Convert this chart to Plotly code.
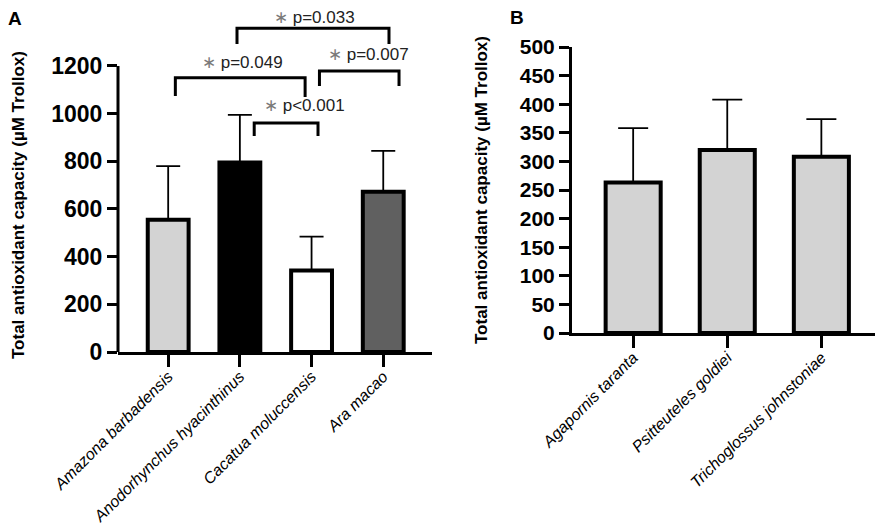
import plotly.graph_objects as go

# Panel A data
species_a = ["Amazona barbadensis", "Anodorhynchus hyacinthinus", "Cacatua moluccensis", "Ara macao"]
tac_a = [555, 795, 342, 672]
sd_a = [225, 200, 142, 172]
colors_a = ["#d3d3d3", "#000000", "#ffffff", "#606060"]

# Panel B data
species_b = ["Agapornis taranta", "Psitteuteles goldiei", "Trichoglossus johnstoniae"]
tac_b = [263, 320, 308]
sd_b = [95, 88, 66]
colors_b = ["#d3d3d3", "#d3d3d3", "#d3d3d3"]

# significance brackets for panel A: (x left, x right, top, left leg, right leg, label, label x, label y)
brackets = [
    (0.10, 1.91, 1150, 1074, 1070, "p=0.049", 1.03, 1213),
    (1.20, 2.09, 961, 906, 906, "p<0.001", 1.90, 1036),
    (2.11, 3.22, 1179, 1116, 1116, "p=0.007", 2.79, 1246),
    (0.96, 3.08, 1358, 1292, 1292, "p=0.033", 2.04, 1403),
]

FONT = "Liberation Sans, Arial, Helvetica, sans-serif"
W, H = 878, 516  # page body keeps an 8px margin

fig = go.Figure()

fig.add_trace(go.Bar(
    x=species_a, y=tac_a, width=0.57,
    marker=dict(color=colors_a, line=dict(color="black", width=4)),
    error_y=dict(type="data", array=sd_a, arrayminus=[0] * len(sd_a), symmetric=False,
                 color="black", thickness=1.8, width=12),
    xaxis="x", yaxis="y", showlegend=False,
))

fig.add_trace(go.Bar(
    x=species_b, y=tac_b, width=0.585,
    marker=dict(color=colors_b, line=dict(color="black", width=4)),
    error_y=dict(type="data", array=sd_b, arrayminus=[0] * len(sd_b), symmetric=False,
                 color="black", thickness=1.8, width=15),
    xaxis="x2", yaxis="y2", showlegend=False,
))

xaxis_common = dict(
    showline=True, linecolor="black", linewidth=3,
    ticks="outside", ticklen=12, tickwidth=2.5, tickcolor="black",
    tickangle=-45, showgrid=False, zeroline=False, automargin=False,
    ticklabelstandoff=-6,
    tickfont=dict(family=FONT, size=16, color="black", style="italic"),
)
yaxis_common = dict(
    ticks="outside", ticklen=10, tickwidth=2.5, tickcolor="black",
    showgrid=False, zeroline=False, automargin=False,
)

fig.update_layout(
    width=W, height=H,
    margin=dict(l=0, r=0, t=0, b=0),
    plot_bgcolor="white", paper_bgcolor="white",
    xaxis=dict(domain=[110 / W, 424 / W], range=[-0.70, 3.68], anchor="y", **xaxis_common),
    yaxis=dict(domain=[1 - 344 / H, 1], range=[0, 1443], anchor="x",
               tickvals=[0, 200, 400, 600, 800, 1000, 1200], showline=False,
               tickfont=dict(family=FONT, size=23, color="black", weight="bold"),
               **yaxis_common),
    xaxis2=dict(domain=[564 / W, 867 / W], range=[-0.65, 2.57], anchor="y2", **xaxis_common),
    yaxis2=dict(domain=[1 - 325 / H, 1 - 39 / H], range=[0, 500], anchor="x2",
                tickvals=list(range(0, 501, 50)), showline=True, linecolor="black", linewidth=3,
                tickfont=dict(family=FONT, size=21, color="black", weight="bold"),
                **yaxis_common),
)

# y axis line of panel A stops at 1200
fig.add_shape(type="line", xref="x domain", yref="y", x0=0, x1=0, y0=0, y1=1200,
              line=dict(color="black", width=3))

for xl, xr, top, ll, rl, label, lx, ly in brackets:
    fig.add_shape(type="path", xref="x", yref="y",
                  path=f"M {xl},{ll} L {xl},{top} L {xr},{top} L {xr},{rl}",
                  line=dict(color="black", width=3))
    fig.add_annotation(x=lx, y=ly, xref="x", yref="y", showarrow=False,
                       xanchor="center", yanchor="middle",
                       text=f"<span style='color:#7a7a7a'>\u2217</span> {label}",
                       font=dict(family=FONT, size=17, color="#222222"))

fig.add_annotation(x=0.96, y=503, xref="x2", yref="y2", showarrow=False,
                   xanchor="center", yanchor="middle",
                   text="p=0.181", font=dict(family=FONT, size=15, color="#222222"))

# axis titles
ytitle = "Total antioxidant capacity (µM Trollox)"
for tx, ty in [(10, 197), (474, 182)]:
    fig.add_annotation(x=tx / W, y=1 - ty / H, xref="paper", yref="paper", showarrow=False,
                       xanchor="center", yanchor="middle", text=ytitle, textangle=-90,
                       font=dict(family=FONT, size=17, color="black", weight="bold"))

# panel letters
for tx, ty, letter in [(7, 10, "A"), (509, 9, "B")]:
    fig.add_annotation(x=tx / W, y=1 - ty / H, xref="paper", yref="paper", showarrow=False,
                       xanchor="center", yanchor="middle", text=letter,
                       font=dict(family=FONT, size=19, color="black", weight="bold"))

fig.write_html("out.html")
